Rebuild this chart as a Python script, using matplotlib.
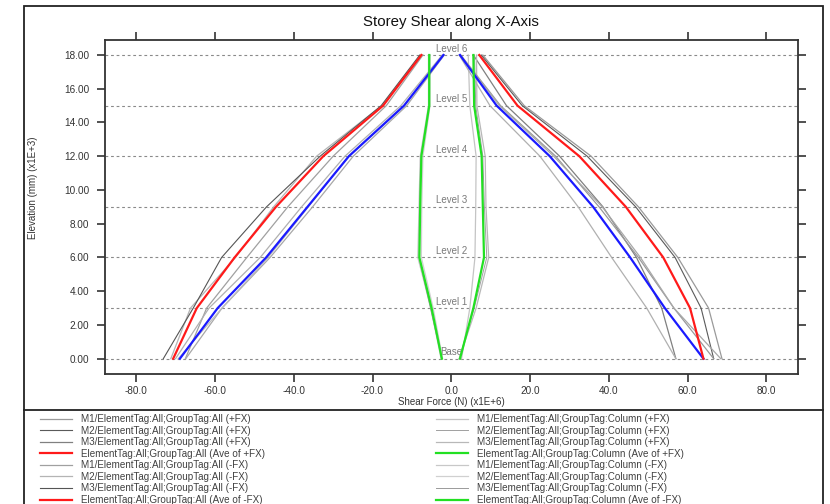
import matplotlib
matplotlib.use('Agg')
import matplotlib.pyplot as plt
from matplotlib.patches import Rectangle
from matplotlib.lines import Line2D

plt.rcParams['font.family'] = ['Liberation Sans', 'DejaVu Sans']

# ---------------- data ----------------
levels = [0, 3, 6, 9, 12, 15, 18]          # elevation (x1E+3 mm)
level_names = ['Base', 'Level 1', 'Level 2', 'Level 3', 'Level 4', 'Level 5', 'Level 6']

x_ticks = [-80, -60, -40, -20, 0, 20, 40, 60, 80]
y_ticks = [0, 2, 4, 6, 8, 10, 12, 14, 16, 18]

# ElementTag:All ; GroupTag:All  (+FX, right side)
all_pos_m1 = [68.7, 65.3, 57.5, 47.5, 35.5, 18.5, 8.0]
all_pos_m2 = [66.6, 63.4, 56.8, 46.8, 34.5, 18.0, 7.6]
all_pos_m3 = [57.0, 53.4, 47.0, 38.5, 27.5, 14.0, 5.6]
all_pos_ave = [64.0, 60.6, 53.8, 44.3, 32.5, 16.8, 7.1]
# ElementTag:All ; GroupTag:All  (-FX, left side)
all_neg_m1 = [-67.5, -62.1, -51.9, -41.5, -30.0, -16.5, -7.2]
all_neg_m2 = [-71.2, -66.2, -54.8, -45.1, -34.2, -17.6, -7.6]
all_neg_m3 = [-73.1, -65.5, -58.3, -46.9, -33.3, -17.8, -8.0]
all_neg_ave = [-70.6, -64.6, -55.0, -44.5, -32.5, -17.3, -7.6]

# ElementTag:All ; GroupTag:Column
col_pos_m1 = [2.6, 4.7, 6.0, 6.2, 6.3, 4.7, 4.3]
col_pos_m2 = [2.0, 5.8, 9.0, 8.4, 8.0, 6.2, 5.9]
col_pos_m3 = [2.0, 6.3, 9.5, 8.8, 8.6, 6.5, 6.4]
col_pos_ave = [2.2, 5.6, 8.3, 8.0, 7.7, 5.8, 5.6]
col_neg_m1 = [-2.6, -5.2, -8.5, -8.2, -7.9, -5.8, -5.8]
col_neg_m2 = [-2.2, -4.6, -7.6, -7.5, -7.2, -5.4, -5.4]
col_neg_m3 = [-2.4, -5.3, -8.2, -8.0, -7.7, -5.6, -5.6]
col_neg_ave = [-2.4, -5.0, -8.1, -7.9, -7.6, -5.6, -5.6]

# further series (blue average and its components, legend not visible)
oth_pos_m1 = [57.0, 49.6, 40.7, 32.2, 22.5, 9.8, 2.0]
oth_pos_m2 = [66.6, 56.5, 47.5, 37.5, 26.5, 12.5, 2.4]
oth_pos_m3 = [68.4, 56.5, 48.0, 38.3, 26.0, 12.2, 2.2]
oth_pos_ave = [64.0, 54.2, 45.4, 36.0, 25.0, 11.5, 2.2]
oth_neg_m1 = [-70.0, -61.5, -48.5, -38.0, -27.0, -12.8, -2.3]
oth_neg_m2 = [-67.4, -58.2, -46.0, -35.2, -24.9, -11.3, -1.8]
oth_neg_m3 = [-69.3, -58.2, -46.5, -36.3, -26.1, -11.9, -1.9]
oth_neg_ave = [-68.9, -59.3, -47.0, -36.5, -26.0, -12.0, -2.0]

labels_all = [
    'M1/ElementTag:All;GroupTag:All (+FX)',
    'M2/ElementTag:All;GroupTag:All (+FX)',
    'M3/ElementTag:All;GroupTag:All (+FX)',
    'ElementTag:All;GroupTag:All (Ave of +FX)',
    'M1/ElementTag:All;GroupTag:All (-FX)',
    'M2/ElementTag:All;GroupTag:All (-FX)',
    'M3/ElementTag:All;GroupTag:All (-FX)',
    'ElementTag:All;GroupTag:All (Ave of -FX)',
]
labels_col = [
    'M1/ElementTag:All;GroupTag:Column (+FX)',
    'M2/ElementTag:All;GroupTag:Column (+FX)',
    'M3/ElementTag:All;GroupTag:Column (+FX)',
    'ElementTag:All;GroupTag:Column (Ave of +FX)',
    'M1/ElementTag:All;GroupTag:Column (-FX)',
    'M2/ElementTag:All;GroupTag:Column (-FX)',
    'M3/ElementTag:All;GroupTag:Column (-FX)',
    'ElementTag:All;GroupTag:Column (Ave of -FX)',
]

RED = '#ff1a1a'
GREEN = '#22e022'
BLUE = '#1a1aff'
SPINE = '#333333'

W, H = 830, 504
fig = plt.figure(figsize=(W / 100, H / 100), dpi=100)

# outer frame and separator
fig.add_artist(Rectangle((24 / W, -0.2), (823 - 24) / W, 1 - 6 / H + 0.2,
                         transform=fig.transFigure, fill=False,
                         edgecolor='#222222', lw=1.3))
fig.add_artist(Line2D([24 / W, 823 / W], [1 - 409.5 / H] * 2,
                      transform=fig.transFigure, color='#222222', lw=1.3))

fig.text(451 / W, 1 - 22 / H, 'Storey Shear along X-Axis', ha='center',
         va='center', fontsize=10.8, color='#111111')

ax = fig.add_axes([105 / W, 1 - 373.7 / H, (798 - 105) / W, (373.7 - 40) / H])
ax.set_xlim(-87.9, 88.0)
ax.set_ylim(-0.89, 18.89)

# level lines and labels
for lv, nm in zip(levels, level_names):
    ax.axhline(lv, color='#8a8a8a', lw=0.8, dashes=(2.5, 2.5), zorder=1)
    ax.annotate(nm, (0, lv), xytext=(0, 1.0), textcoords='offset points',
                ha='center', va='bottom', fontsize=7, color='#7a7a7a', zorder=2)

def pl(x, color, lw, label='_nolegend_', z=3):
    return ax.plot(x, levels, color=color, lw=lw, label=label, zorder=z,
                   solid_joinstyle='round')[0]

# grey component lines
h_all = [
    pl(all_pos_m1, '#9a9a9a', 0.9, labels_all[0]),
    pl(all_pos_m2, '#5a5a5a', 0.8, labels_all[1]),
    pl(all_pos_m3, '#808080', 0.9, labels_all[2]),
    None,
    pl(all_neg_m1, '#a0a0a0', 0.9, labels_all[4]),
    pl(all_neg_m2, '#b4b4b4', 0.9, labels_all[5]),
    pl(all_neg_m3, '#555555', 0.8, labels_all[6]),
    None,
]
h_col = [
    pl(col_pos_m1, '#c4c4c4', 0.9, labels_col[0]),
    pl(col_pos_m2, '#a0a0a0', 0.7, labels_col[1]),
    pl(col_pos_m3, '#b8b8b8', 0.9, labels_col[2]),
    None,
    pl(col_neg_m1, '#c8c8c8', 0.9, labels_col[4]),
    pl(col_neg_m2, '#d0d0d0', 0.9, labels_col[5]),
    pl(col_neg_m3, '#9a9a9a', 0.7, labels_col[6]),
    None,
]
for s, c in [(oth_pos_m1, '#b0b0b0'), (oth_pos_m2, '#9a9a9a'), (oth_pos_m3, '#a8a8a8'),
             (oth_neg_m1, '#b0b0b0'), (oth_neg_m2, '#a8a8a8'), (oth_neg_m3, '#bcbcbc')]:
    pl(s, c, 0.9)

# averages
h_all[3] = pl(all_pos_ave, RED, 1.6, labels_all[3], z=5)
h_all[7] = pl(all_neg_ave, RED, 1.6, labels_all[7], z=5)
h_col[3] = pl(col_pos_ave, GREEN, 1.6, labels_col[3], z=5)
h_col[7] = pl(col_neg_ave, GREEN, 1.6, labels_col[7], z=5)
pl(oth_pos_ave, BLUE, 1.6, z=4)
pl(oth_neg_ave, BLUE, 1.6, z=4)

# axes styling
ax.set_xticks(x_ticks)
ax.set_xticklabels([f'{v:.1f}' for v in x_ticks])
ax.set_yticks(y_ticks)
ax.set_yticklabels([f'{v:.2f}' for v in y_ticks])
ax.tick_params(axis='both', direction='out', length=5.8, width=1.2,
               color=SPINE, labelsize=7.2, labelcolor='#333333',
               top=True, right=True, labeltop=False, labelright=False)
ax.tick_params(axis='y', pad=5.5)
ax.tick_params(axis='x', pad=3)
for sp in ax.spines.values():
    sp.set_color(SPINE)
    sp.set_linewidth(1.3)

ax.set_xlabel('Shear Force (N) (x1E+6)', fontsize=7, color='#333333')
ax.xaxis.set_label_coords(0.5, -0.069)
ax.set_ylabel('Elevation (mm) (x1E+3)', fontsize=7, color='#333333')
ax.yaxis.set_label_coords(-0.096, 0.558)

# legends (two columns)
common = dict(loc='upper left', frameon=False, fontsize=7.1, borderpad=0,
              borderaxespad=0, handlelength=3.2, handletextpad=0.95,
              labelspacing=0.16, labelcolor='#404040')
fig.legend(h_all, labels_all, bbox_to_anchor=(40 / W, 1 - 414 / H), **common)
fig.legend(h_col, labels_col, bbox_to_anchor=(436 / W, 1 - 414 / H), **common)

fig.savefig('out.png', dpi=100)
